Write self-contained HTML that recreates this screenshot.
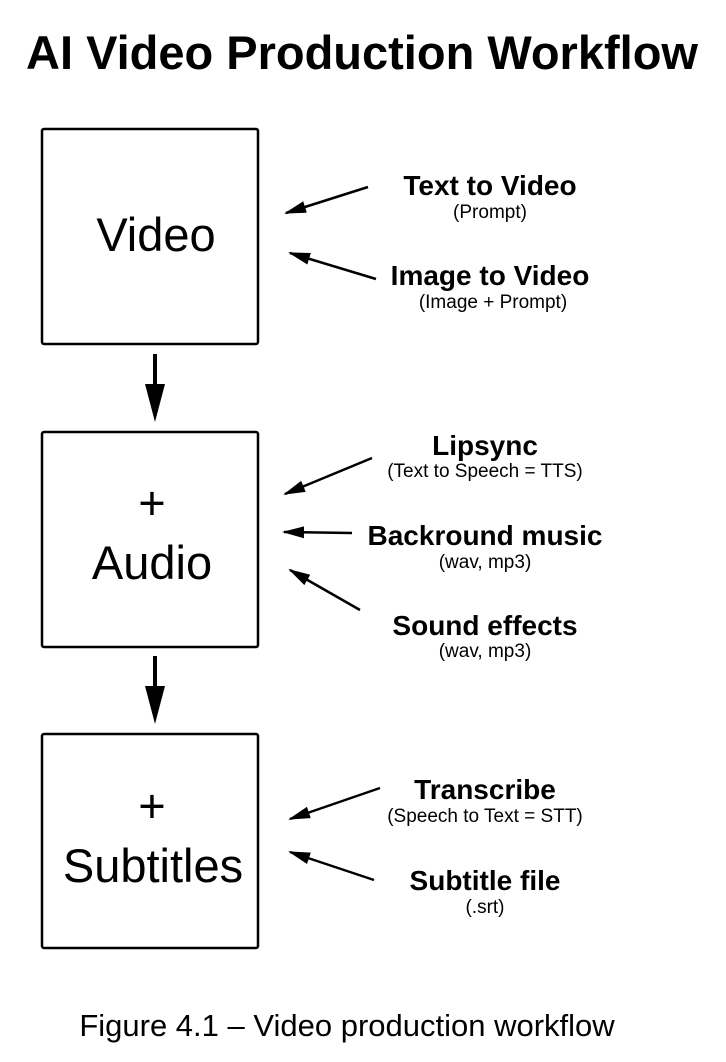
<!DOCTYPE html>
<html><head><style>
body{margin:0;background:#fff}
svg{display:block}
text{font-family:"Liberation Sans",Arial,sans-serif;fill:#000}
.b{font-weight:bold;font-size:28px}
.s{font-size:19px}
.big{font-size:47px}
</style></head><body>
<svg width="726" height="1062" viewBox="0 0 726 1062">
<defs>
<marker id="h" viewBox="0 0 22 12" markerWidth="22" markerHeight="12" refX="20" refY="6" orient="auto" markerUnits="userSpaceOnUse"><path d="M0,0 L22,6 L0,12z"/></marker></defs>
<text x="362" y="69" text-anchor="middle" font-weight="bold" font-size="47">AI Video Production Workflow</text>
<g fill="none" stroke="#000" stroke-width="2.5">
<rect x="42" y="129" width="216" height="215" rx="2"/>
<rect x="42" y="432" width="216" height="215" rx="2"/>
<rect x="42" y="734" width="216" height="214" rx="2"/>
</g>
<g stroke="#000" stroke-width="4"><line x1="155" y1="354" x2="155" y2="390"/><line x1="155" y1="656" x2="155" y2="692"/></g>
<path d="M145,384 L165,384 L155,422z"/><path d="M145,686 L165,686 L155,724z"/>
<text class="big" x="156" y="251" text-anchor="middle">Video</text>
<text class="big" x="152" y="519" text-anchor="middle">+</text>
<text class="big" x="152" y="579" text-anchor="middle">Audio</text>
<text class="big" x="152" y="822" text-anchor="middle">+</text>
<text class="big" x="153" y="882" text-anchor="middle">Subtitles</text>
<g stroke="#000" stroke-width="2.5" marker-end="url(#h)">
<line x1="368" y1="187" x2="286" y2="213"/>
<line x1="376" y1="279" x2="290" y2="253"/>
<line x1="372" y1="458" x2="285" y2="494"/>
<line x1="352" y1="533" x2="284" y2="532"/>
<line x1="360" y1="610" x2="290" y2="570"/>
<line x1="380" y1="788" x2="290" y2="819"/>
<line x1="374" y1="880" x2="290" y2="852"/>
</g>
<g text-anchor="middle">
<text class="b" x="490" y="195">Text to Video</text><text class="s" x="490" y="218">(Prompt)</text>
<text class="b" x="490" y="285">Image to Video</text><text class="s" x="493" y="308">(Image + Prompt)</text>
<text class="b" x="485" y="455">Lipsync</text><text class="s" x="485" y="477">(Text to Speech = TTS)</text>
<text class="b" x="485" y="545">Backround music</text><text class="s" x="485" y="568">(wav, mp3)</text>
<text class="b" x="485" y="635">Sound effects</text><text class="s" x="485" y="657">(wav, mp3)</text>
<text class="b" x="485" y="799">Transcribe</text><text class="s" x="485" y="822">(Speech to Text = STT)</text>
<text class="b" x="485" y="890">Subtitle file</text><text class="s" x="485" y="913">(.srt)</text>
<text x="347" y="1036" font-size="31">Figure 4.1 – Video production workflow</text>
</g>
</svg>
</body></html>
